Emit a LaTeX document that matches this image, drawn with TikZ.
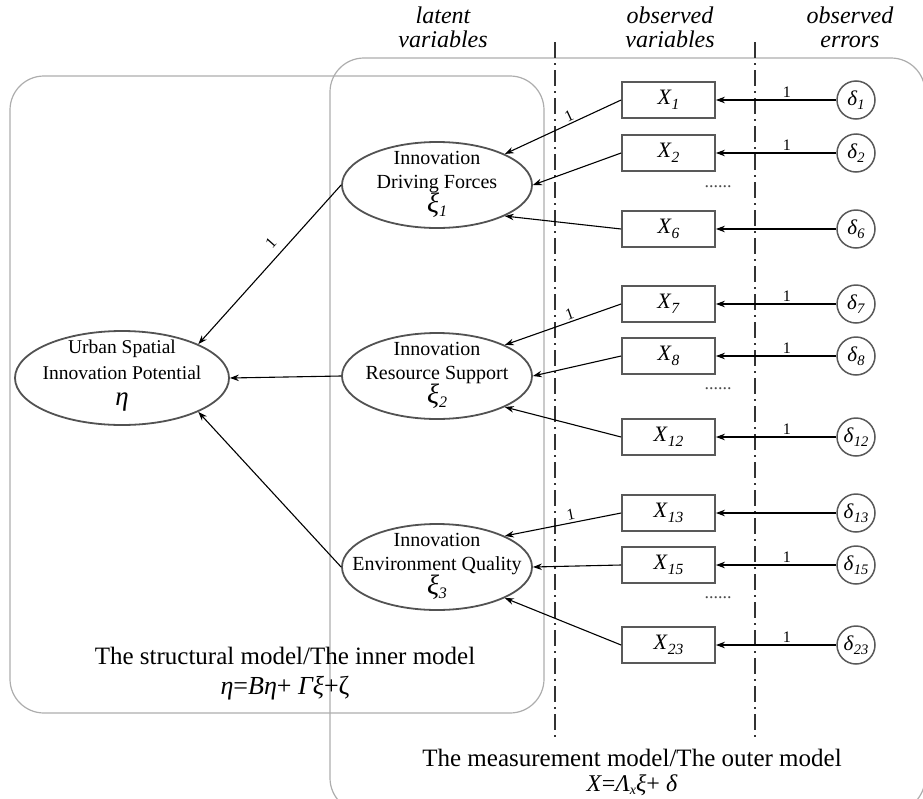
\documentclass[tikz,border=0pt]{standalone}
\usepackage{fontspec}
\setmainfont{Liberation Serif}
\usetikzlibrary{arrows.meta,shapes.geometric}
\newcommand\Xv[1]{{\fontsize{22}{24}\selectfont\textit{X}\raisebox{-4.5pt}{\fontsize{15.5}{15}\selectfont\textit{#1}}}}
\newcommand\Dv[1]{{\fontsize{21}{22}\selectfont\textit{δ}\raisebox{-4pt}{\fontsize{14.5}{14}\selectfont\textit{#1}}}}
\newcommand\Xiv[1]{{\fontsize{28}{24}\selectfont\textit{ξ}\raisebox{-4pt}{\fontsize{16}{15}\selectfont\textit{#1}}}}
\tikzset{
  region/.style={draw=black!32, line width=1.2pt, rounded corners=34pt},
  latent/.style={ellipse, draw=black!68, line width=1.8pt, minimum width=190pt, minimum height=86pt, inner sep=0pt},
  latentbig/.style={latent, minimum width=214pt, minimum height=94pt},
  ltext/.style={align=center, font=\fontsize{20}{24}\selectfont, inner sep=0pt},
  obs/.style={rectangle, draw=black!65, line width=1.8pt, minimum width=93pt, minimum height=36pt, inner sep=0pt},
  err/.style={circle, draw=black!65, line width=1.5pt, minimum size=38pt, inner sep=0pt},
  arr/.style={-{Stealth[length=9pt,width=6.5pt]}, line width=1.1pt, black},
  divider/.style={line width=1.5pt, black!80, dash pattern=on 16pt off 5pt on 2pt off 5pt},
  head/.style={font=\fontsize{24}{24}\selectfont\itshape, align=center, inner sep=0pt},
  one/.style={font=\fontsize{16}{16}\selectfont, inner sep=2pt},
  dotsrow/.style={font=\fontsize{18}{18}\selectfont, text=black!70, inner sep=0pt},
  title/.style={font=\fontsize{25}{27}\selectfont, inner sep=0pt},
}
\begin{document}
\begin{tikzpicture}[x=1pt,y=-1pt]
\useasboundingbox (0,0) rectangle (923,798);
\clip (0,0) rectangle (923,798);

% regions
\draw[region] (10,76) rectangle (544,713);
\draw[region] (330,58) rectangle (925,812);

% dividers
\coordinate (v1t) at (555,42); \coordinate (v1b) at (555,740);
\coordinate (v2t) at (755,42); \coordinate (v2b) at (755,740);
\draw[divider] (v1t) -- (v1b);
\draw[divider] (v2t) -- (v2b);

% headers
\node[head] (h1) at (443,27) {latent\\variables};
\node[head] (h2) at (670,27) {observed\\variables};
\node[head] (h3) at (850,27) {observed\\errors};

% latent variables
\node[latentbig] (eta) at (122,378) {};
\node[ltext, font=\fontsize{19.5}{26}\selectfont] (etat) at (122,376) {Urban Spatial\\Innovation Potential\\{\fontsize{27}{25}\selectfont\textit{η}}};
\node[latent] (xi1) at (437,185) {};
\node[ltext] (xi1t) at (437,184) {Innovation\\Driving Forces\\\Xiv{1}};
\node[latent] (xi2) at (437,376) {};
\node[ltext] (xi2t) at (437,375) {Innovation\\Resource Support\\\Xiv{2}};
\node[latent] (xi3) at (437,567) {};
\node[ltext] (xi3t) at (437,566) {Innovation\\Environment Quality\\\Xiv{3}};

% observed variables
\foreach \n/\y in {1/100,2/153,6/229,7/304,8/356,12/437,13/513,15/565,23/645}{
  \node[obs] (x\n) at (668.5,\y) {\Xv{\n}};
  \node[err] (d\n) at (856,\y) {\Dv{\n}};
}

% dots
\node[dotsrow] (dots1) at (718,187) {......};
\node[dotsrow] (dots2) at (718,389) {......};
\node[dotsrow] (dots3) at (718,598) {......};

% error arrows
\foreach \n in {1,2,7,8,12,15,23}{
  \draw[arr] (d\n.west) -- node[pos=0.41, above, one] {1} (x\n.east);
}
\foreach \n in {6,13}{
  \draw[arr] (d\n.west) -- (x\n.east);
}

% loadings
\draw[arr] (x1.west) -- node[pos=0.42, sloped, above, one] {1} (xi1.north east);
\draw[arr] (x2.west) -- (xi1.east);
\draw[arr] (x6.west) -- (xi1.south east);
\draw[arr] (x7.west) -- node[pos=0.42, sloped, above, one] {1} (xi2.north east);
\draw[arr] (x8.west) -- (xi2.east);
\draw[arr] (x12.west) -- (xi2.south east);
\draw[arr] (x13.west) -- node[pos=0.42, sloped, above, one] {1} (xi3.north east);
\draw[arr] (x15.west) -- (xi3.east);
\draw[arr] (x23.west) -- (xi3.south east);

% structural paths
\draw[arr] (xi1.west) -- node[pos=0.42, sloped, above=6pt, one] {1} (eta.north east);
\draw[arr] (xi2.west) -- (eta.east);
\draw[arr] (xi3.west) -- (eta.south east);

% titles
\node[title] (st) at (285,656) {The structural model/The inner model};
\node[title, font=\fontsize{26}{27}\selectfont] (se) at (285,688) {\textit{η}=\textit{Bη}+ \textit{Γξ}+ζ};
\node[title] (mt) at (632,758) {The measurement model/The outer model};
\node[title, font=\fontsize{24}{26}\selectfont] (me) at (632,785) {\textit{X}=\textit{Λ}\raisebox{-3pt}{\fontsize{14}{14}\selectfont\textit{x}}\textit{ξ}+ \textit{δ}};
\end{tikzpicture}
\end{document}
